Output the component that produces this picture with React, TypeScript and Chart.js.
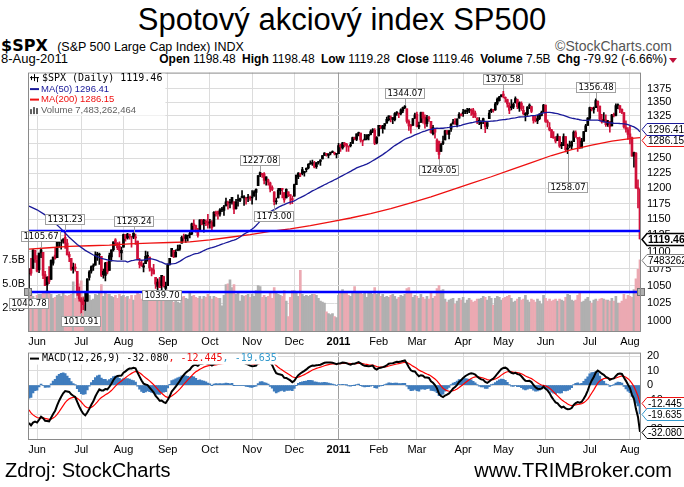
import React, { useEffect, useRef } from 'react';
import { Chart, registerables } from 'chart.js';

Chart.register(...registerables);

// Daily bars: [open, high, low, close, volume in billions]
const may10 = [
  [1067, 1075, 1040.78, 1074, 4.0], [1075, 1090, 1065, 1068, 3.9], [1075, 1103, 1075, 1103, 3.7], [1102, 1102, 1084, 1089, 3.3],
];
const jun10 = [
  [1087, 1094, 1070, 1071, 3.8], [1073, 1098, 1069, 1098, 3.9], [1098, 1105.67, 1091, 1103, 3.9], [1099, 1099, 1060, 1065, 4.2],
  [1066, 1071, 1050, 1050, 4.0], [1051, 1063, 1042, 1062, 4.3], [1063, 1078, 1053, 1056, 4.0], [1059, 1088, 1059, 1087, 3.9],
  [1083, 1092, 1080, 1092, 3.5], [1095, 1106, 1089, 1090, 3.6], [1091, 1116, 1091, 1115, 3.8], [1114, 1118, 1107, 1115, 3.9],
  [1115, 1118, 1104, 1116, 3.7], [1117, 1120, 1113, 1118, 4.1], [1122, 1131.23, 1105, 1113, 3.8], [1113, 1119, 1095, 1095, 3.7],
  [1096, 1100, 1085, 1092, 3.8], [1090, 1090, 1072, 1074, 3.9], [1074, 1083, 1068, 1077, 5.2], [1077, 1082, 1071, 1075, 3.5],
  [1071, 1071, 1036, 1041, 5.4], [1041, 1048, 1028, 1031, 5.0],
];
const jul10 = [
  [1031, 1033, 1010.91, 1027, 5.3], [1028, 1033, 1016, 1023, 3.7], [1029, 1042, 1015, 1028, 4.1], [1028, 1060, 1028, 1060, 3.9],
  [1062, 1072, 1058, 1070, 3.8], [1071, 1079, 1068, 1078, 3.3], [1078, 1082, 1072, 1079, 3.4], [1080, 1100, 1080, 1095, 3.9],
  [1095, 1099, 1087, 1095, 3.8], [1095, 1098, 1081, 1096, 4.0], [1093, 1093, 1063, 1065, 4.9], [1066, 1074, 1061, 1071, 3.7],
  [1065, 1084, 1057, 1083, 4.0], [1084, 1085, 1067, 1070, 3.9], [1072, 1098, 1072, 1094, 3.9], [1092, 1103, 1086, 1103, 3.7],
  [1103, 1115, 1101, 1115, 3.6], [1118, 1120, 1109, 1114, 3.8], [1113, 1114, 1103, 1106, 3.5], [1108, 1115, 1092, 1102, 3.9],
  [1098, 1107, 1088, 1102, 3.7],
];
const aug10 = [
  [1107, 1127, 1107, 1126, 3.8], [1126, 1126, 1116, 1120, 3.6], [1121, 1128, 1119, 1127, 3.7], [1125, 1127, 1119, 1126, 3.4],
  [1123, 1123, 1107, 1122, 3.8], [1122, 1129.24, 1120, 1128, 3.3], [1122, 1127, 1111, 1121, 3.8], [1116, 1116, 1088, 1089, 4.1],
  [1081, 1090, 1076, 1084, 3.9], [1082, 1087, 1078, 1079, 3.4], [1077, 1083, 1070, 1079, 3.3], [1082, 1101, 1082, 1093, 3.6],
  [1093, 1100, 1086, 1094, 3.5], [1092, 1092, 1071, 1076, 3.8], [1075, 1076, 1064, 1072, 3.7], [1073, 1081, 1067, 1067, 3.2],
  [1062, 1062, 1046, 1052, 3.9], [1049, 1060, 1040, 1055, 3.8], [1057, 1062, 1047, 1047, 3.6], [1050, 1065, 1039.7, 1065, 3.8],
  [1063, 1064, 1048, 1049, 3.2], [1046, 1055, 1041, 1049, 3.9],
];
const sep10 = [
  [1050, 1082, 1050, 1080, 4.0], [1081, 1090, 1080, 1090, 3.6], [1093, 1105, 1093, 1105, 3.4], [1102, 1102, 1091, 1092, 3.1],
  [1092, 1103, 1092, 1099, 3.2], [1102, 1110, 1102, 1104, 3.1], [1104, 1110, 1102, 1110, 3.0], [1113, 1124, 1113, 1122, 3.6],
  [1121, 1127, 1116, 1121, 3.7], [1120, 1126, 1114, 1125, 3.5], [1124, 1125, 1116, 1125, 3.4], [1126, 1131, 1121, 1126, 4.0],
  [1127, 1144, 1126, 1143, 3.7], [1143, 1149, 1133, 1140, 3.8], [1140, 1141, 1130, 1134, 3.6], [1131, 1136, 1122, 1125, 3.5],
  [1131, 1149, 1131, 1149, 3.7], [1149, 1150, 1141, 1142, 3.4], [1143, 1150, 1130, 1148, 3.7], [1146, 1149, 1140, 1145, 3.6],
  [1146, 1158, 1136, 1141, 3.9],
];
const oct10 = [
  [1144, 1150, 1136, 1146, 3.7], [1145, 1148, 1131, 1137, 3.4], [1139, 1162, 1139, 1161, 3.7], [1159, 1163, 1155, 1160, 3.6],
  [1162, 1163, 1150, 1158, 3.5], [1158, 1167, 1155, 1165, 3.5], [1166, 1169, 1162, 1165, 2.7], [1164, 1172, 1156, 1170, 3.8],
  [1172, 1184, 1171, 1178, 4.9], [1177, 1179, 1166, 1174, 5.0], [1177, 1182, 1168, 1176, 5.4], [1177, 1185, 1174, 1185, 4.6],
  [1178, 1178, 1159, 1166, 4.9], [1167, 1182, 1166, 1178, 3.9], [1180, 1189, 1171, 1180, 4.2], [1180, 1184, 1178, 1183, 3.2],
  [1185, 1196, 1184, 1186, 3.8], [1184, 1188, 1172, 1186, 3.7], [1184, 1185, 1174, 1182, 3.8], [1184, 1190, 1178, 1184, 3.9],
  [1183, 1187, 1180, 1183, 3.6],
];
const nov10 = [
  [1185, 1196, 1174, 1184, 3.9], [1187, 1196, 1187, 1194, 3.7], [1193, 1199, 1181, 1198, 4.3], [1204, 1221, 1204, 1221, 4.8],
  [1222, 1227.08, 1219, 1226, 4.7], [1224, 1224, 1218, 1223, 3.6], [1224, 1226, 1207, 1213, 3.8], [1213, 1219, 1205, 1219, 3.6],
  [1210, 1215, 1205, 1214, 3.7], [1209, 1210, 1194, 1199, 4.0], [1201, 1204, 1196, 1198, 3.5], [1194, 1194, 1173.0, 1178, 4.6],
  [1178, 1184, 1174, 1179, 4.2], [1184, 1200, 1184, 1197, 3.9], [1196, 1200, 1190, 1200, 3.8], [1198, 1198, 1184, 1198, 3.7],
  [1193, 1193, 1177, 1181, 4.3], [1184, 1199, 1184, 1198, 3.2], [1194, 1194, 1186, 1189, 1.6], [1188, 1189, 1174, 1188, 3.6],
  [1183, 1187, 1175, 1181, 4.3],
];
const dec10 = [
  [1187, 1207, 1187, 1206, 4.3], [1206, 1222, 1206, 1222, 4.0], [1219, 1226, 1216, 1225, 3.7], [1223, 1225, 1219, 1223, 6.4],
  [1231, 1235, 1222, 1224, 3.9], [1226, 1228, 1220, 1228, 3.7], [1231, 1234, 1227, 1233, 3.8], [1234, 1241, 1232, 1240, 3.7],
  [1242, 1246, 1240, 1240, 3.8], [1241, 1247, 1238, 1242, 3.9], [1241, 1245, 1234, 1235, 3.9], [1236, 1243, 1233, 1243, 3.8],
  [1243, 1245, 1240, 1244, 3.5], [1245, 1248, 1238, 1247, 3.2], [1249, 1255, 1249, 1255, 3.1], [1255, 1260, 1255, 1259, 3.0],
  [1257, 1258, 1254, 1257, 2.1], [1255, 1258, 1251, 1258, 1.9], [1259, 1260, 1256, 1259, 1.8], [1260, 1263, 1260, 1260, 1.9],
  [1260, 1261, 1256, 1258, 1.6], [1257, 1258, 1251, 1258, 1.5],
];
const jan11 = [
  [1258, 1276, 1258, 1272, 3.8], [1273, 1275, 1262, 1270, 4.2], [1268, 1278, 1266, 1277, 4.4], [1276, 1278, 1270, 1274, 4.2],
  [1275, 1276, 1262, 1272, 4.1], [1270, 1271, 1262, 1270, 3.8], [1272, 1278, 1270, 1274, 3.7], [1276, 1287, 1276, 1286, 4.1],
  [1286, 1287, 1282, 1284, 4.7], [1283, 1293, 1281, 1293, 4.0], [1293, 1296, 1289, 1295, 4.2], [1294, 1294, 1278, 1282, 4.0],
  [1281, 1281, 1272, 1280, 3.9], [1282, 1292, 1282, 1283, 4.1], [1284, 1291, 1282, 1291, 3.6], [1289, 1292, 1282, 1291, 4.2],
  [1292, 1300, 1291, 1297, 4.0], [1297, 1302, 1295, 1300, 3.9], [1299, 1302, 1274, 1276, 4.6], [1277, 1288, 1275, 1286, 3.9],
];
const feb11 = [
  [1289, 1308, 1289, 1308, 4.1], [1305, 1308, 1302, 1304, 3.7], [1302, 1308, 1294, 1307, 3.9], [1307, 1311, 1301, 1311, 3.6],
  [1312, 1323, 1312, 1319, 3.7], [1318, 1325, 1316, 1325, 3.6], [1322, 1325, 1314, 1321, 3.8], [1318, 1322, 1311, 1322, 3.9],
  [1318, 1331, 1316, 1329, 3.7], [1329, 1333, 1326, 1332, 3.4], [1330, 1330, 1322, 1328, 3.6], [1329, 1338, 1327, 1336, 3.8],
  [1334, 1341, 1331, 1340, 3.7], [1340, 1344.07, 1338, 1343, 3.9], [1338, 1338, 1312, 1315, 4.5], [1315, 1318, 1299, 1307, 4.6],
  [1307, 1310, 1294, 1306, 4.2], [1308, 1320, 1308, 1320, 3.6], [1322, 1330, 1320, 1327, 3.8],
];
const mar11 = [
  [1328, 1332, 1305, 1306, 3.7], [1305, 1314, 1302, 1308, 3.5], [1313, 1332, 1313, 1331, 3.9], [1331, 1332, 1312, 1321, 3.6],
  [1323, 1327, 1303, 1310, 3.4], [1311, 1326, 1306, 1322, 3.7], [1320, 1324, 1315, 1320, 3.4], [1315, 1315, 1294, 1295, 4.0],
  [1293, 1308, 1291, 1304, 3.5], [1301, 1302, 1285, 1296, 3.7], [1262, 1284, 1262, 1282, 4.5], [1279, 1280, 1249.05, 1257, 4.8],
  [1262, 1276, 1262, 1274, 4.3], [1276, 1289, 1274, 1279, 4.4], [1282, 1299, 1282, 1298, 3.4], [1298, 1299, 1292, 1294, 3.1],
  [1292, 1299, 1284, 1298, 3.3], [1301, 1311, 1297, 1310, 3.4], [1311, 1319, 1310, 1314, 3.5], [1315, 1320, 1310, 1310, 2.9],
  [1309, 1320, 1305, 1319, 3.2], [1321, 1331, 1321, 1328, 3.5], [1327, 1329, 1325, 1326, 3.3],
];
const apr11 = [
  [1329, 1337, 1324, 1332, 3.6], [1333, 1336, 1329, 1333, 3.0], [1333, 1339, 1329, 1333, 3.3], [1335, 1339, 1331, 1336, 3.5],
  [1335, 1338, 1326, 1334, 3.3], [1336, 1339, 1322, 1328, 3.1], [1330, 1334, 1322, 1324, 3.2], [1321, 1322, 1311, 1314, 3.4],
  [1317, 1322, 1309, 1314, 3.4], [1311, 1316, 1302, 1315, 3.5], [1315, 1321, 1311, 1320, 3.7], [1314, 1314, 1295, 1305, 3.6],
  [1306, 1313, 1302, 1313, 3.3], [1320, 1335, 1320, 1330, 3.7], [1333, 1338, 1331, 1337, 3.5], [1337, 1337, 1332, 1335, 2.8],
  [1336, 1350, 1335, 1347, 3.5], [1348, 1358, 1345, 1356, 3.7], [1353, 1361, 1352, 1360, 3.6], [1361, 1364, 1360, 1364, 3.3],
];
const may11 = [
  [1365, 1370.58, 1358, 1361, 3.5], [1359, 1360, 1350, 1357, 3.6], [1355, 1356, 1341, 1347, 3.7], [1345, 1349, 1329, 1335, 3.8],
  [1342, 1355, 1336, 1340, 3.5], [1341, 1349, 1338, 1346, 3.1], [1349, 1360, 1349, 1357, 3.2], [1355, 1356, 1338, 1342, 3.4],
  [1339, 1351, 1333, 1349, 3.6], [1348, 1351, 1335, 1338, 3.3], [1335, 1343, 1327, 1329, 3.4], [1327, 1331, 1316, 1329, 3.8],
  [1329, 1342, 1326, 1341, 3.3], [1343, 1347, 1338, 1344, 3.1], [1342, 1343, 1331, 1333, 3.4], [1324, 1324, 1312, 1317, 3.3],
  [1317, 1324, 1314, 1316, 3.1], [1316, 1326, 1311, 1320, 3.4], [1320, 1329, 1318, 1326, 3.2], [1326, 1334, 1325, 1331, 2.9],
  [1332, 1346, 1332, 1345, 3.8],
];
const jun11 = [
  [1345, 1345, 1313, 1315, 3.5], [1314, 1318, 1305, 1313, 3.2], [1304, 1313, 1298, 1300, 3.4], [1300, 1301, 1286, 1286, 3.2],
  [1287, 1297, 1285, 1285, 3.3], [1284, 1288, 1277, 1280, 3.4], [1281, 1293, 1281, 1289, 3.2], [1288, 1288, 1269, 1271, 3.4],
  [1272, 1278, 1267, 1272, 3.3], [1272, 1293, 1272, 1288, 3.2], [1288, 1288, 1261, 1265, 3.6], [1266, 1275, 1258.07, 1268, 3.9],
  [1271, 1280, 1268, 1272, 3.8], [1271, 1280, 1267, 1278, 3.3], [1279, 1298, 1279, 1296, 3.2], [1295, 1298, 1287, 1287, 3.3],
  [1286, 1286, 1262, 1284, 3.8], [1284, 1287, 1267, 1268, 4.0], [1268, 1285, 1268, 1280, 3.1], [1280, 1297, 1280, 1297, 3.2],
  [1297, 1310, 1297, 1307, 3.4], [1308, 1322, 1308, 1321, 3.6],
];
const jul11 = [
  [1321, 1341, 1318, 1340, 3.2], [1340, 1340, 1334, 1338, 3.0], [1337, 1341, 1330, 1339, 3.3], [1340, 1356.48, 1340, 1353, 3.4],
  [1352, 1352, 1333, 1344, 3.2], [1343, 1343, 1316, 1319, 3.4], [1319, 1328, 1312, 1314, 3.5], [1314, 1331, 1314, 1318, 3.4],
  [1318, 1327, 1306, 1309, 3.3], [1309, 1317, 1306, 1316, 3.3], [1315, 1315, 1296, 1305, 3.2], [1307, 1328, 1307, 1327, 3.5],
  [1328, 1330, 1323, 1326, 3.2], [1326, 1347, 1325, 1344, 3.7], [1344, 1347, 1338, 1345, 3.0], [1344, 1344, 1331, 1337, 3.0],
  [1337, 1338, 1329, 1332, 3.2], [1331, 1331, 1303, 1305, 3.9], [1304, 1316, 1296, 1301, 3.4], [1300, 1304, 1283, 1292, 3.8],
];
const aug11 = [
  [1293, 1308, 1275, 1287, 3.7], [1286, 1287, 1254, 1254, 3.6], [1254, 1261, 1235, 1260, 4.4], [1259, 1260, 1200, 1200, 5.5],
  [1201, 1214, 1168, 1199, 6.5], [1198.48, 1198.48, 1119.28, 1119.46, 7.48],
];

const months = [may10, jun10, jul10, aug10, sep10, oct10, nov10, dec10, jan11, feb11, mar11, apr11, may11, jun11, jul11, aug11];
const monthLabels = ['Jun', 'Jul', 'Aug', 'Sep', 'Oct', 'Nov', 'Dec', '2011', 'Feb', 'Mar', 'Apr', 'May', 'Jun', 'Jul', 'Aug'];
const priceTicks = [1000, 1025, 1050, 1075, 1100, 1125, 1150, 1175, 1200, 1225, 1250, 1275, 1300, 1325, 1350, 1375];
const volumeTicks = [2.5, 5, 7.5];
const macdTicks = [-30, -20, -10, 0, 10, 20];

// MA(50) before enough history exists in the window: [dayIndex, value]
const ma50Early = [
  [0, 1171], [4, 1165], [8, 1157], [12, 1147], [16, 1135], [20, 1122], [24, 1111], [28, 1102], [32, 1095],
  [36, 1090], [40, 1087], [44, 1086], [48, 1086],
];
// MA(200): [dayIndex, value]
const ma200Pts = [
  [0, 1104], [10, 1106], [20, 1108], [30, 1109], [40, 1110], [50, 1112], [60, 1113], [70, 1114], [80, 1115],
  [90, 1118], [100, 1122], [110, 1126], [120, 1131], [130, 1135], [140, 1140], [150, 1146], [160, 1152],
  [170, 1159], [180, 1167], [190, 1176], [200, 1186], [210, 1197], [220, 1208], [230, 1219], [240, 1231],
  [250, 1243], [260, 1255], [270, 1265], [280, 1273], [290, 1280], [300, 1285], [304, 1286.15],
];
// EMA12, EMA26, signal at the first day of the window
const macdSeed = [1112, 1138, -17];

const levels = [1131.23, 1040.78];
const priceNotes = [1040.78, 1105.67, 1131.23, 1010.91, 1129.24, 1039.7, 1227.08, 1173.0, 1344.07, 1249.05, 1370.58, 1258.07, 1356.48];

const lastClose = 1119.46;
const lastMa50 = 1296.41;
const lastMa200 = 1286.15;
const lastVolume = 7483262464;
const lastMacd = -32.08;
const lastSignal = -12.445;
const lastHist = -19.635;

// ---------- layout tweaks (pixels) ----------
const noteGapExtra: Record<string, number> = { '1258.07': 22, '1039.70': -9, '1010.91': -3 };

// ---------- derived ----------
const days: number[][] = ([] as number[][]).concat(...months);
const N = days.length;
const monthStarts: number[] = [];
{
  let acc = 0;
  months.forEach((m, k) => { if (k > 0) monthStarts.push(acc); acc += m.length; });
}
const yearStart = monthStarts[monthLabels.indexOf('2011')];
const closes = days.map((d) => d[3]);
const isUp = (i: number) => i === 0 || days[i][3] >= days[i - 1][3];

const ma50Pts: { x: number; y: number }[] = ma50Early.map(([x, y]) => ({ x, y }));
for (let i = 49; i < N; i++) {
  let s = 0;
  for (let k = i - 49; k <= i; k++) s += closes[k];
  ma50Pts.push({ x: i, y: s / 50 });
}

const macdLine: number[] = [];
const signalLine: number[] = [];
{
  let e12 = macdSeed[0], e26 = macdSeed[1], sig = macdSeed[2];
  closes.forEach((c, i) => {
    if (i > 0) { e12 += (c - e12) * (2 / 13); e26 += (c - e26) * (2 / 27); }
    const m = e12 - e26;
    if (i > 0) sig += (m - sig) * 0.2;
    macdLine.push(m);
    signalLine.push(sig);
  });
}

const UI = '"DejaVu Sans", Verdana, sans-serif';
const MONO = '"DejaVu Sans Mono", "Liberation Mono", monospace';
const AX = '"Liberation Sans", Arial, sans-serif';
const RED = '#d0103a';

function xScale(h: number) {
  return {
    type: 'linear', min: -0.5, max: N - 0.5, offset: false,
    afterFit: (s: any) => { s.height = h; },
    afterBuildTicks: (s: any) => { s.ticks = monthStarts.map((v) => ({ value: v })); },
    ticks: {
      autoSkip: false, maxRotation: 0, minRotation: 0, padding: 3, color: '#000',
      font: (c: any) => ({ family: AX, size: 11, weight: c.tick && c.tick.value === yearStart ? 'bold' : 'normal' }),
      callback: (_v: any, i: number) => monthLabels[i],
    },
    grid: {
      offset: false, drawTicks: false,
      color: (c: any) => (c.tick && c.tick.value === yearStart ? '#a0a0a0' : '#dcdcdc'),
    },
    border: { display: false },
  };
}

function drawTag(ctx: CanvasRenderingContext2D, x: number, y: number, text: string, stroke: string, font: string, lw = 1) {
  ctx.font = font;
  const tw = ctx.measureText(text).width;
  const h = 12;
  const x2 = x + 5 + tw + 4;
  y = Math.round(y) + 0.5;
  ctx.beginPath();
  ctx.moveTo(x, y);
  ctx.lineTo(x + 5, y - h / 2);
  ctx.lineTo(x2, y - h / 2);
  ctx.lineTo(x2, y + h / 2);
  ctx.lineTo(x + 5, y + h / 2);
  ctx.closePath();
  ctx.fillStyle = '#fff';
  ctx.fill();
  ctx.strokeStyle = stroke;
  ctx.lineWidth = lw;
  ctx.stroke();
  ctx.fillStyle = '#000';
  ctx.textAlign = 'left';
  ctx.textBaseline = 'middle';
  ctx.fillText(text, x + 6, y + 0.5);
}

const mainDeco = {
  id: 'mainDeco',
  afterDatasetsDraw(chart: any) {
    const { ctx, chartArea: a } = chart;
    const x = chart.scales.x, y = chart.scales.y;
    ctx.save();
    levels.forEach((v) => {
      const py = Math.round(y.getPixelForValue(v));
      ctx.strokeStyle = '#0000ff';
      ctx.lineWidth = 2.5;
      ctx.beginPath();
      ctx.moveTo(a.left, py);
      ctx.lineTo(a.right, py);
      ctx.stroke();
    });
    const pyl = Math.round(y.getPixelForValue(levels[1]));
    [a.left, a.right].forEach((px: number) => {
      ctx.fillStyle = '#b0b0b0';
      ctx.fillRect(px - 4, pyl - 4, 8, 8);
      ctx.strokeStyle = '#707070';
      ctx.lineWidth = 1;
      ctx.strokeRect(px - 3.5, pyl - 3.5, 7, 7);
    });
    ctx.font = `8.5px ${UI}`;
    ctx.textAlign = 'center';
    ctx.textBaseline = 'middle';
    priceNotes.forEach((v) => {
      let i = days.findIndex((d) => d[1] === v);
      const above = i >= 0;
      if (!above) i = days.findIndex((d) => d[2] === v);
      const px = Math.round(x.getPixelForValue(i));
      const py = Math.round(y.getPixelForValue(v));
      const text = v.toFixed(2);
      const w = Math.round(ctx.measureText(text).width) + 5;
      const h = 11;
      const gap = 6 + (noteGapExtra[text] || 0);
      const top = above ? py - gap - h : py + gap;
      ctx.strokeStyle = '#a0a0a0';
      ctx.lineWidth = 1;
      ctx.beginPath();
      ctx.moveTo(px + 0.5, py);
      ctx.lineTo(px + 0.5, above ? top + h : top);
      ctx.stroke();
      const left = Math.round(px - w / 2);
      ctx.fillStyle = '#fff';
      ctx.fillRect(left, top, w, h);
      ctx.strokeRect(left + 0.5, top + 0.5, w - 1, h - 1);
      ctx.fillStyle = '#000';
      ctx.fillText(text, left + w / 2, top + h / 2 + 0.5);
    });
    ctx.restore();
  },
  afterDraw(chart: any) {
    const { ctx, chartArea: a } = chart;
    const y = chart.scales.y, yv = chart.scales.yv;
    ctx.save();
    ctx.strokeStyle = '#8a8a8a';
    ctx.lineWidth = 1;
    ctx.strokeRect(a.left + 0.5, a.top + 0.5, a.right - a.left - 1, a.bottom - a.top - 1);
    // legend
    const lx = a.left + 2;
    const t1 = `$SPX (Daily) ${lastClose.toFixed(2)}`;
    const t4 = `Volume ${lastVolume.toLocaleString('en-US')}`;
    ctx.font = `10px ${MONO}`;
    const bw = ctx.measureText(t1).width + 16;
    ctx.fillStyle = '#fff';
    ctx.fillRect(a.left + 1, a.top + 1, bw, 42);
    ctx.textAlign = 'left';
    ctx.textBaseline = 'middle';
    const rows = [a.top + 5.5, a.top + 16.5, a.top + 27, a.top + 37.5];
    ctx.fillStyle = '#000';
    [[0, 2, 6], [3, 0, 7], [6, 3, 8]].forEach(([dx, t, b]) => ctx.fillRect(lx + dx + 1, rows[0] - 4 + t, 1, b - t));
    ctx.fillRect(lx, rows[0] - 1, 9, 1);
    ctx.fillText(t1, lx + 12, rows[0]);
    ctx.font = `9.5px ${AX}`;
    ctx.fillStyle = '#1a1a99';
    ctx.fillRect(lx, rows[1] - 1, 9, 2);
    ctx.fillText(`MA(50) ${lastMa50.toFixed(2)}`, lx + 11, rows[1]);
    ctx.fillStyle = '#ee1111';
    ctx.fillRect(lx, rows[2] - 1, 9, 2);
    ctx.fillText(`MA(200) ${lastMa200.toFixed(2)}`, lx + 11, rows[2]);
    ctx.fillStyle = '#606060';
    ctx.fillRect(lx, rows[3] - 1, 2, 5);
    ctx.fillRect(lx + 3, rows[3] - 3, 2, 7);
    ctx.fillRect(lx + 6, rows[3] - 2, 2, 6);
    ctx.fillText(t4, lx + 11, rows[3]);
    // right tags
    const tx = a.right + 1;
    drawTag(ctx, tx, y.getPixelForValue(lastMa200) + 2, lastMa200.toFixed(2), '#ee1111', `10px ${AX}`);
    drawTag(ctx, tx, y.getPixelForValue(lastMa50) - 3, lastMa50.toFixed(2), '#1a1a99', `10px ${AX}`);
    drawTag(ctx, tx, y.getPixelForValue(lastClose), lastClose.toFixed(2), '#000', `bold 10.5px ${AX}`, 1.5);
    drawTag(ctx, tx, yv.getPixelForValue(lastVolume / 1e9), String(lastVolume), '#808080', `10px ${AX}`);
    ctx.restore();
  },
};

const macdDeco = {
  id: 'macdDeco',
  afterDraw(chart: any) {
    const { ctx, chartArea: a } = chart;
    const y = chart.scales.y;
    ctx.save();
    ctx.strokeStyle = '#8a8a8a';
    ctx.lineWidth = 1;
    ctx.strokeRect(a.left + 0.5, a.top + 0.5, a.right - a.left - 1, a.bottom - a.top - 1);
    ctx.font = `10px ${MONO}`;
    const p1 = `MACD(12,26,9) ${lastMacd.toFixed(3)}`;
    const p2 = `, ${lastSignal.toFixed(3)}`;
    const p3 = `, ${lastHist.toFixed(3)}`;
    const w1 = ctx.measureText(p1).width, w2 = ctx.measureText(p2).width, w3 = ctx.measureText(p3).width;
    const lx = a.left + 2;
    const ly = a.top + 6;
    ctx.fillStyle = '#fff';
    ctx.fillRect(a.left + 1, a.top + 1, 14 + w1 + w2 + w3, 11);
    ctx.fillStyle = '#000';
    ctx.fillRect(lx, ly - 1, 9, 2);
    ctx.textAlign = 'left';
    ctx.textBaseline = 'middle';
    ctx.fillText(p1, lx + 12, ly);
    ctx.fillStyle = '#ee1111';
    ctx.fillText(p2, lx + 12 + w1, ly);
    ctx.fillStyle = '#3399cc';
    ctx.fillText(p3, lx + 12 + w1 + w2, ly);
    const tx = a.right + 1;
    drawTag(ctx, tx, y.getPixelForValue(lastSignal), lastSignal.toFixed(3), '#ee1111', `10px ${AX}`);
    drawTag(ctx, tx, y.getPixelForValue(lastHist), lastHist.toFixed(3), '#3399cc', `10px ${AX}`);
    drawTag(ctx, tx, y.getPixelForValue(lastMacd), lastMacd.toFixed(3), '#000', `10px ${AX}`);
    ctx.restore();
  },
};

function mainConfig(): any {
  const candleColors = days.map((_d, i) => (isUp(i) ? '#000000' : RED));
  const volColors = days.map((_d, i) => (isUp(i) ? '#b0b0b0' : '#eba9b2'));
  return {
    type: 'bar',
    data: {
      datasets: [
        { type: 'line', data: ma50Pts, borderColor: '#1a1a99', borderWidth: 1.3, pointRadius: 0, yAxisID: 'y', order: 0 },
        { type: 'line', data: ma200Pts.map(([x, y]) => ({ x, y })), borderColor: '#ee1111', borderWidth: 1.3, pointRadius: 0, yAxisID: 'y', order: 0 },
        { type: 'bar', data: days.map((d, i) => ({ x: i, y: [d[0], d[3]] })), backgroundColor: candleColors, barThickness: 2, minBarLength: 1, grouped: false, yAxisID: 'y', order: 1 },
        { type: 'bar', data: days.map((d, i) => ({ x: i, y: [d[2], d[1]] })), backgroundColor: candleColors, barThickness: 1, grouped: false, yAxisID: 'y', order: 2 },
        { type: 'bar', data: days.map((d, i) => ({ x: i, y: d[4] })), backgroundColor: volColors, barThickness: 2, grouped: false, yAxisID: 'yv', order: 5 },
      ],
    },
    options: {
      responsive: false, animation: false, devicePixelRatio: 1, events: [],
      layout: { padding: { top: 6, left: 0, right: 0, bottom: 0 } },
      plugins: { legend: { display: false }, tooltip: { enabled: false } },
      scales: {
        x: xScale(18),
        y: {
          type: 'logarithmic', position: 'right', min: 985.4, max: 1406,
          afterFit: (s: any) => { s.width = 43; },
          afterBuildTicks: (s: any) => { s.ticks = priceTicks.map((v) => ({ value: v })); },
          ticks: { padding: 6, color: '#000', font: { family: AX, size: 11 }, callback: (v: any) => String(v) },
          grid: { drawTicks: false, color: '#dcdcdc' },
          border: { display: false },
        },
        yv: {
          type: 'linear', position: 'left', min: 0, max: 26.87,
          afterFit: (s: any) => { s.width = 28; },
          afterBuildTicks: (s: any) => { s.ticks = volumeTicks.map((v) => ({ value: v })); },
          ticks: { padding: 3, color: '#000', font: { family: AX, size: 11 }, callback: (v: any) => `${Number(v).toFixed(1)}B` },
          grid: { display: false, drawTicks: false },
          border: { display: false },
        },
      },
    },
    plugins: [mainDeco],
  };
}

function macdConfig(): any {
  return {
    type: 'bar',
    data: {
      datasets: [
        { type: 'line', data: macdLine.map((v, i) => ({ x: i, y: v })), borderColor: '#000', borderWidth: 2, pointRadius: 0, order: 0 },
        { type: 'line', data: signalLine.map((v, i) => ({ x: i, y: v })), borderColor: '#ff0000', borderWidth: 1.2, pointRadius: 0, order: 1 },
        { type: 'bar', data: macdLine.map((v, i) => ({ x: i, y: v - signalLine[i] })), backgroundColor: '#3f7cbd', barThickness: 2, grouped: false, order: 3 },
      ],
    },
    options: {
      responsive: false, animation: false, devicePixelRatio: 1, events: [],
      layout: { padding: { top: 8, left: 28, right: 0, bottom: 0 } },
      plugins: { legend: { display: false }, tooltip: { enabled: false } },
      scales: {
        x: xScale(20),
        y: {
          type: 'linear', position: 'right', min: -37.7, max: 22.4,
          afterFit: (s: any) => { s.width = 43; },
          afterBuildTicks: (s: any) => { s.ticks = macdTicks.map((v) => ({ value: v })); },
          ticks: { padding: 6, color: '#000', font: { family: AX, size: 11 }, callback: (v: any) => String(v) },
          grid: { drawTicks: false, color: '#dcdcdc' },
          border: { display: false },
        },
      },
    },
    plugins: [macdDeco],
  };
}

export default function App() {
  const mainRef = useRef<HTMLCanvasElement>(null);
  const macdRef = useRef<HTMLCanvasElement>(null);
  useEffect(() => {
    const c1 = new Chart(mainRef.current as HTMLCanvasElement, mainConfig());
    const c2 = new Chart(macdRef.current as HTMLCanvasElement, macdConfig());
    return () => { c1.destroy(); c2.destroy(); };
  }, []);
  const abs = (s: any) => ({ position: 'absolute', whiteSpace: 'nowrap', ...s } as React.CSSProperties);
  return (
    <div style={abs({ left: 0, top: 0, width: 684, height: 487, background: '#fff', overflow: 'hidden', fontFamily: AX, color: '#000' })}>
      <div style={abs({ left: 0, top: 2, width: 684, textAlign: 'center', fontSize: 31, lineHeight: '36px' })}>Spotový akciový index SP500</div>
      <div style={abs({ left: 1, top: 38, fontSize: 12.5, lineHeight: '16px' })}>
        <span style={{ fontWeight: 'bold', fontSize: 16, fontFamily: UI, marginRight: 6 }}>$SPX</span> (S&amp;P 500 Large Cap Index) INDX
      </div>
      <div style={abs({ right: 12, top: 38, fontSize: 14, lineHeight: '16px', color: '#555' })}>{'\u00a9StockCharts.com'}</div>
      <div style={abs({ left: 1, top: 52, fontSize: 13, lineHeight: '14px' })}>8-Aug-2011</div>
      <div style={abs({ right: 17, top: 52, fontSize: 12, lineHeight: '14px' })}>
        <b>Open</b> 1198.48 <b style={{ marginLeft: 3 }}>High</b> 1198.48 <b style={{ marginLeft: 3 }}>Low</b> 1119.28{' '}
        <b style={{ marginLeft: 3 }}>Close</b> 1119.46 <b style={{ marginLeft: 3 }}>Volume</b> 7.5B{' '}
        <b style={{ marginLeft: 3 }}>Chg</b> -79.92 (-6.66%)
      </div>
      <div style={abs({ left: 669, top: 58, width: 0, height: 0, borderLeft: '4px solid transparent', borderRight: '4px solid transparent', borderTop: '5px solid #c0103a' })} />
      <canvas ref={mainRef} width={684} height={290} style={abs({ left: 0, top: 60 })} />
      <canvas ref={macdRef} width={684} height={120} style={abs({ left: 0, top: 340 })} />
      <div style={abs({ left: 5, top: 458, fontSize: 20, lineHeight: '24px' })}>Zdroj: StockCharts</div>
      <div style={abs({ right: 12, top: 458, fontSize: 20, lineHeight: '24px' })}>www.TRIMBroker.com</div>
    </div>
  );
}
